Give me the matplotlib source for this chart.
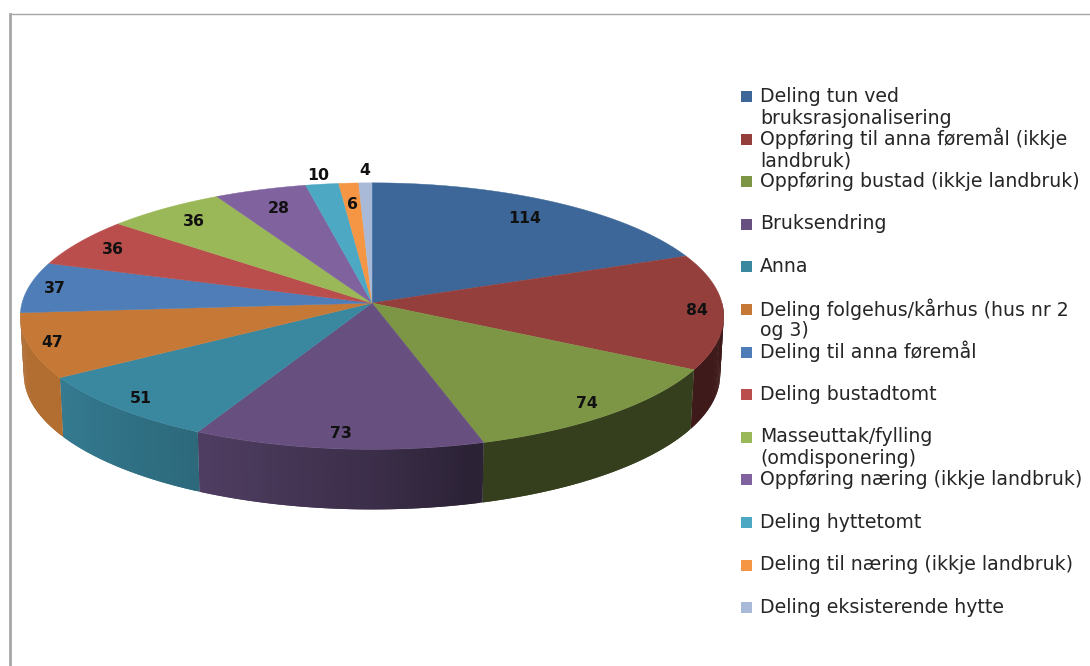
import numpy as np
import matplotlib
matplotlib.use("Agg")
import matplotlib.pyplot as plt
from matplotlib.collections import PolyCollection
from matplotlib.colors import to_rgb

labels = ["Deling tun ved\nbruksrasjonalisering", "Oppføring til anna føremål (ikkje\nlandbruk)",
          "Oppføring bustad (ikkje landbruk)", "Bruksendring", "Anna",
          "Deling folgehus/kårhus (hus nr 2\nog 3)", "Deling til anna føremål", "Deling bustadtomt",
          "Masseuttak/fylling\n(omdisponering)", "Oppføring næring (ikkje landbruk)", "Deling hyttetomt",
          "Deling til næring (ikkje landbruk)", "Deling eksisterende hytte"]
values = [114, 84, 74, 73, 51, 47, 37, 36, 36, 28, 10, 6, 4]
colors = ["#3C6798", "#953F3D", "#7D9645", "#67507F", "#3A88A0", "#C67936", "#4E7DB7",
          "#BA4E4C", "#9AB858", "#80629E", "#4CA8C3", "#F59644", "#A9BAD9"]
# how far out along the slice each number sits (1 = rim)
label_r = [.83, .925, .908, .907, .917, .934, .923, .88, .85, .82, 1.085, .81, 1.11]

# pie geometry in image pixels, with a bit of perspective on the disc
CX, CY, RX, RY, P, DEPTH = 372, 303, 350, 132, 0.0985, 60


def project(theta, r=1.0):
    # theta clockwise from 12 o'clock, degrees
    t = np.radians(theta)
    u, v = r * np.sin(t), -r * np.cos(t)
    return CX + RX * u / (1 - P * v), CY + RY * v / (1 - P * v)


def shade(theta):
    # side wall gets lighter going round to the left
    return np.interp(theta, [90, 165, 180, 207, 237, 270], [.42, .42, .58, .77, .90, .90])


fig = plt.figure(figsize=(10.9, 6.66), dpi=100)
ax = fig.add_axes([0, 0, 1, 1])
ax.set_xlim(0, 1090); ax.set_ylim(666, 0); ax.axis("off")
ax.plot([10, 1090], [14, 14], color="#A6A6A6", lw=1)
ax.plot([10, 10], [14, 666], color="#A6A6A6", lw=2)

edges = np.concatenate([[0], np.cumsum(values)]) / sum(values) * 360

# walls first, each strip overlaps the next so no seams show
for a, b, c in zip(edges[:-1], edges[1:], colors):
    lo, hi = max(a, 90), min(b, 266)
    if lo >= hi:
        continue
    th = np.linspace(lo, hi, max(2, int(hi - lo) * 2))
    x, y = project(th)
    v = -np.cos(np.radians(th))
    xb = CX + (x - CX) * 0.99
    yb = y + DEPTH * (0.97 + 0.03 * v)
    quads = []
    for i in range(len(th) - 1):
        j = min(i + 2, len(th) - 1)
        quads.append([(x[i], y[i]), (x[i + 1], y[i + 1]), (x[j], y[j]), (xb[j], yb[j]), (xb[i + 1], yb[i + 1]), (xb[i], yb[i])])
    fc = [tuple(np.array(to_rgb(c)) * shade(t)) for t in (th[:-1] + th[1:]) / 2]
    ax.add_collection(PolyCollection(quads, facecolors=fc, edgecolors="none", zorder=2))

# top of the disc
for a, b, c in zip(edges[:-1], edges[1:], colors):
    th = np.linspace(a, b, max(2, int(b - a) * 2))
    x, y = project(th)
    ax.fill(np.r_[CX, x], np.r_[CY, y], color=c, lw=0.3, zorder=3)

for val, a, b, r in zip(values, edges[:-1], edges[1:], label_r):
    x, y = project((a + b) / 2, r)
    ax.text(x, y, str(val), ha="center", va="center", fontsize=11.3, fontweight="bold", color="#111111", zorder=4)

# legend, wrapped lines spaced as in the original
y = 96
for lab, c in zip(labels, colors):
    ax.add_patch(plt.Rectangle((741, y - 5), 11, 11, fc=c, ec="none"))
    for i, line in enumerate(lab.split("\n")):
        ax.text(760, y + i * 22, line, ha="left", va="center", fontsize=13.6, color="#262626")
    y += 42.6

fig.savefig("out.png", dpi=100)
